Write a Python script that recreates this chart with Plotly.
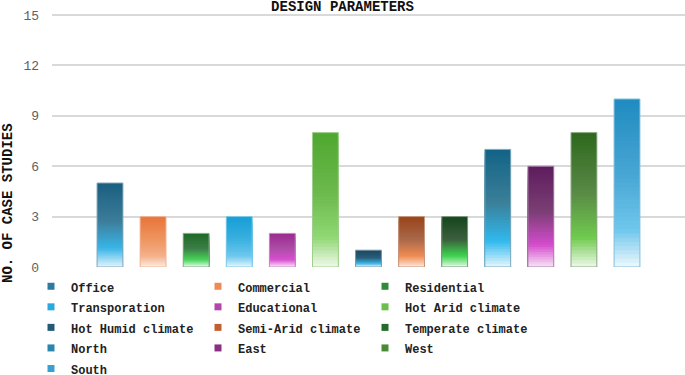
import plotly.graph_objects as go

# ---- data ----
categories = ["Office", "Commercial", "Residential", "Transporation", "Educational",
              "Hot Arid climate", "Hot Humid climate", "Semi-Arid climate",
              "Temperate climate", "North", "East", "West", "South"]
values = [5, 3, 2, 3, 2, 8, 1, 3, 3, 7, 6, 8, 10]
y_ticks = [0, 3, 6, 9, 12, 15]
title_text = "DESIGN PARAMETERS"
y_title = "NO. OF CASE STUDIES"

# ---- styles (gradient stops per bar, top -> bottom) ----
top_colors = ["#1a5e80", "#e8743a", "#1d6a27", "#169ed6", "#9b2a91", "#4fa72f", "#1b4962",
              "#99431a", "#16451c", "#126386", "#5e1c5d", "#2e671e", "#1f8bc0"]
mid_colors = ["#3b7d99", "#ee955f", "#3d7e48", "#3ab0e0", "#ad4ea5", "#6cb94d", "#2a5d78",
              "#a8694a", "#3b5f3d", "#3b7f98", "#7a3f74", "#5a8a46", "#48a6d4"]
low_colors = ["#3ab6e8", "#f4b08a", "#45d457", "#6dc8ee", "#d84fd0", "#90d873", "#3ab4e6",
              "#f08b52", "#3ed44f", "#30b9ee", "#d54ccd", "#6fca4d", "#6fc7ec"]
base_colors = ["#e6f4fb", "#fdebe1", "#e6f9e8", "#e3f4fc", "#f9e3f7", "#f0f9ec", "#d5effa",
               "#fde7da", "#e2f8e4", "#e7f6fc", "#f8e4f6", "#eef8ea", "#eef8fd"]
legend_colors = ["#2d7ba0", "#ef8a55", "#2f8a3a", "#2aa9df", "#b446ab", "#6cbf4a", "#255a76",
                 "#c0602e", "#246b2c", "#2a86ad", "#8a2f85", "#4b8a35", "#3aa0d2"]

FONT = "Liberation Mono, Courier New, monospace"


def hex2rgb(h):
    h = h.lstrip("#")
    return [int(h[i:i + 2], 16) for i in (0, 2, 4)]


def lerp(c1, c2, f):
    a, b = hex2rgb(c1), hex2rgb(c2)
    return "rgb(%d,%d,%d)" % tuple(round(a[i] + (b[i] - a[i]) * f) for i in range(3))


def grad(i, t):
    # t: 0 bottom -> 1 top
    stops = [(0.0, base_colors[i]), (0.22, low_colors[i]), (0.55, mid_colors[i]), (1.0, top_colors[i])]
    for (t0, c0), (t1, c1) in zip(stops[:-1], stops[1:]):
        if t <= t1:
            return lerp(c0, c1, (t - t0) / (t1 - t0))
    return stops[-1][1]


fig = go.Figure()
N = 40
for k in range(N, 0, -1):
    frac = k / N
    fig.add_trace(go.Bar(
        x=categories, y=[v * frac for v in values], width=0.6,
        marker=dict(color=[grad(i, (k - 0.5) / N) for i in range(len(categories))], line=dict(width=0)),
        opacity=1, showlegend=False, hoverinfo="skip"))

# thin light outline
fig.add_trace(go.Bar(
    x=categories, y=values, width=0.6,
    marker=dict(color="rgba(0,0,0,0)", line=dict(width=1, color=[lerp(c, "#ffffff", 0.45) for c in top_colors])),
    showlegend=False, hoverinfo="skip"))

# legend entries
for i, c in enumerate(categories):
    fig.add_trace(go.Scatter(
        x=[None], y=[None], mode="markers",
        name='<span style="font-size:12px">%s</span>' % c,
        marker=dict(symbol="square", size=7, color=legend_colors[i])))

fig.update_layout(
    width=685, height=375,
    margin=dict(l=52, r=0, t=14, b=108, autoexpand=False),
    barmode="overlay",
    plot_bgcolor="white", paper_bgcolor="white",
    title=dict(text=title_text, x=0.5, xref="container", xanchor="center",
               y=1 - 6 / 375, yanchor="middle",
               font=dict(family=FONT, size=14, color="#111111", weight="bold")),
    xaxis=dict(type="category", categoryorder="array", categoryarray=categories,
               range=[-1.346, 13.346], showticklabels=False, showgrid=False,
               zeroline=False, showline=False, ticks=""),
    yaxis=dict(range=[0, 15.06], tickvals=y_ticks, showgrid=True, gridcolor="#d9d9d9",
               gridwidth=1.5, zeroline=False, showline=False, ticks="",
               ticklabelstandoff=12,
               tickfont=dict(family=FONT, size=13, color="#606060")),
    legend=dict(orientation="h", xref="container", x=31 / 685, xanchor="left",
                y=(267 - 271) / 253, yanchor="top",
                entrywidth=122, entrywidthmode="pixels",
                font=dict(family=FONT, size=13.5, color="#222222", weight="bold"),
                bgcolor="rgba(0,0,0,0)"),
    annotations=[dict(text=y_title, textangle=-90, xref="paper", yref="paper",
                      x=(8 - 52) / 633, y=(267 - 203) / 253,
                      xanchor="center", yanchor="middle", showarrow=False,
                      font=dict(family=FONT, size=14, color="#111111", weight="bold"))],
)

fig.write_html("out.html", config={"displayModeBar": False},
               post_script="document.body.style.margin='0px';")
